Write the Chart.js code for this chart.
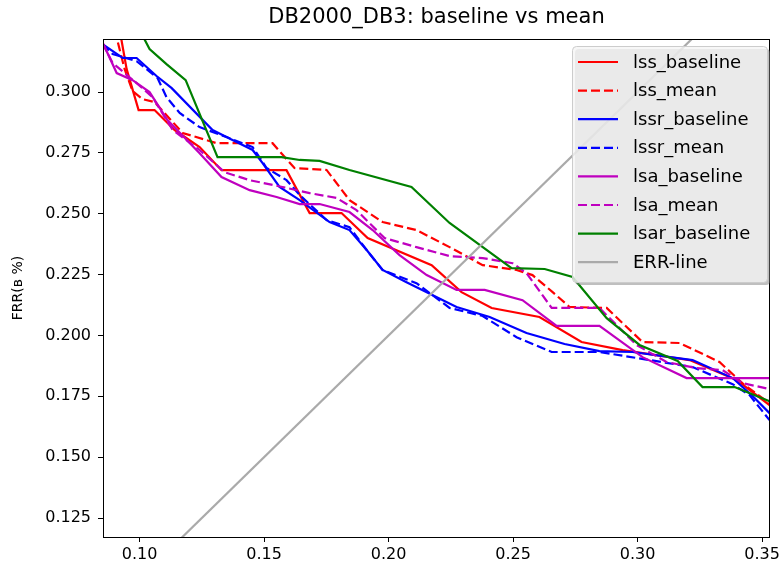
<!DOCTYPE html>
<html>
<head>
<meta charset="utf-8">
<script src="https://cdn.jsdelivr.net/npm/chart.js@4.4.0/dist/chart.umd.min.js"></script>
<style>
    body { margin: 0; background: #fff; }
    #wrap { position: relative; width: 784px; height: 564px; }
    #titulo {
        position: absolute; top: 4px; left: 103px; width: 667px;
        text-align: center; font: 21px "DejaVu Sans", sans-serif; color: #000;
    }
</style>
</head>
<body>
<div id="wrap">
    <div id="titulo">DB2000_DB3: baseline vs mean</div>
    <canvas id="grafico" width="784" height="564"></canvas>
</div>
<script>
/* ═══════════════════════════════════════════
   DB2000_DB3 — FRR curves, baseline vs mean
═══════════════════════════════════════════ */

// ── Data ([x, y] pairs) ────────────────────────
const lssBaseline = [
    [0.0920, 0.3255], [0.0948, 0.3094], [0.0996, 0.2926], [0.1060, 0.2926], [0.1141, 0.2844],
    [0.1241, 0.2774], [0.1329, 0.2679], [0.1590, 0.2679], [0.1683, 0.2503], [0.1811, 0.2503],
    [0.1916, 0.2400], [0.2173, 0.2289], [0.2293, 0.2178], [0.2414, 0.2113], [0.2606, 0.2076],
    [0.2775, 0.1973], [0.2940, 0.1940], [0.3209, 0.1899], [0.3398, 0.1817], [0.3530, 0.1714]
];
const lssMean = [
    [0.0900, 0.3255], [0.0940, 0.3094], [0.0972, 0.3004], [0.1012, 0.2971], [0.1060, 0.2959],
    [0.1173, 0.2832], [0.1309, 0.2790], [0.1534, 0.2790], [0.1622, 0.2688], [0.1751, 0.2680],
    [0.1843, 0.2556], [0.1976, 0.2466], [0.2112, 0.2433], [0.2245, 0.2363], [0.2378, 0.2289],
    [0.2514, 0.2269], [0.2578, 0.2248], [0.2659, 0.2178], [0.2727, 0.2117], [0.2876, 0.2113],
    [0.3020, 0.1973], [0.3169, 0.1969], [0.3329, 0.1891], [0.3430, 0.1796], [0.3530, 0.1722]
];
const lssrBaseline = [
    [0.0851, 0.3197], [0.0932, 0.3140], [0.0988, 0.3140], [0.1068, 0.3066], [0.1129, 0.3016],
    [0.1293, 0.2844], [0.1373, 0.2803], [0.1454, 0.2762], [0.1494, 0.2708], [0.1562, 0.2610],
    [0.1643, 0.2556], [0.1763, 0.2466], [0.1843, 0.2433], [0.1912, 0.2351], [0.1976, 0.2269],
    [0.2072, 0.2219], [0.2273, 0.2117], [0.2406, 0.2076], [0.2554, 0.2010], [0.2707, 0.1965],
    [0.2847, 0.1936], [0.2980, 0.1932], [0.3221, 0.1899], [0.3382, 0.1825], [0.3462, 0.1751],
    [0.3530, 0.1681]
];
const lssrMean = [
    [0.0851, 0.3197], [0.0892, 0.3156], [0.0988, 0.3127], [0.1072, 0.3058], [0.1108, 0.2979],
    [0.1161, 0.2914], [0.1241, 0.2856], [0.1349, 0.2815], [0.1454, 0.2774], [0.1510, 0.2688],
    [0.1590, 0.2638], [0.1643, 0.2577], [0.1751, 0.2474], [0.1843, 0.2445], [0.1912, 0.2351],
    [0.1976, 0.2269], [0.2112, 0.2215], [0.2245, 0.2113], [0.2378, 0.2080], [0.2514, 0.1993],
    [0.2655, 0.1932], [0.2847, 0.1932], [0.3048, 0.1899], [0.3221, 0.1870], [0.3382, 0.1800],
    [0.3450, 0.1755], [0.3530, 0.1652]
];
const lsaBaseline = [
    [0.0851, 0.3205], [0.0908, 0.3078], [0.0972, 0.3049], [0.1040, 0.3000], [0.1112, 0.2885],
    [0.1241, 0.2749], [0.1329, 0.2651], [0.1442, 0.2597], [0.1550, 0.2569], [0.1643, 0.2540],
    [0.1723, 0.2540], [0.1843, 0.2507], [0.1936, 0.2433], [0.2044, 0.2330], [0.2153, 0.2248],
    [0.2273, 0.2187], [0.2386, 0.2187], [0.2538, 0.2145], [0.2675, 0.2039], [0.2847, 0.2039],
    [0.3020, 0.1911], [0.3197, 0.1825], [0.3530, 0.1825]
];
const lsaMean = [
    [0.0851, 0.3201], [0.0892, 0.3119], [0.0988, 0.3037], [0.1052, 0.2979], [0.1133, 0.2844],
    [0.1241, 0.2762], [0.1341, 0.2671], [0.1442, 0.2638], [0.1574, 0.2610], [0.1683, 0.2585],
    [0.1791, 0.2565], [0.1871, 0.2515], [0.1984, 0.2400], [0.2112, 0.2363], [0.2245, 0.2326],
    [0.2378, 0.2318], [0.2498, 0.2297], [0.2554, 0.2256], [0.2655, 0.2113], [0.2847, 0.2113],
    [0.2996, 0.1961], [0.3116, 0.1891], [0.3237, 0.1866], [0.3341, 0.1858], [0.3422, 0.1804],
    [0.3530, 0.1780]
];
const lsarBaseline = [
    [0.1004, 0.3247], [0.1040, 0.3177], [0.1108, 0.3115], [0.1185, 0.3049], [0.1313, 0.2733],
    [0.1570, 0.2733], [0.1643, 0.2721], [0.1723, 0.2717], [0.1843, 0.2680], [0.2092, 0.2610],
    [0.2245, 0.2462], [0.2494, 0.2277], [0.2627, 0.2273], [0.2739, 0.2240], [0.2876, 0.2071],
    [0.3008, 0.1961], [0.3161, 0.1895], [0.3261, 0.1788], [0.3390, 0.1788], [0.3530, 0.1730]
];
const errLine = [[0.10, 0.10], [0.40, 0.40]];

// ── Axes ───────────────────────────────────────
const xRange = [0.0853, 0.3532];
const yRange = [0.1172, 0.3218];
const xTicks = [0.10, 0.15, 0.20, 0.25, 0.30, 0.35];
const yTicks = [0.125, 0.150, 0.175, 0.200, 0.225, 0.250, 0.275, 0.300];

const FONT = '"DejaVu Sans", sans-serif';

const series = [
    { label: 'lss_baseline',  data: lssBaseline,  color: '#ff0000', dash: [] },
    { label: 'lss_mean',      data: lssMean,      color: '#ff0000', dash: [9, 4] },
    { label: 'lssr_baseline', data: lssrBaseline, color: '#0000ff', dash: [] },
    { label: 'lssr_mean',     data: lssrMean,     color: '#0000ff', dash: [9, 4] },
    { label: 'lsa_baseline',  data: lsaBaseline,  color: '#bf00bf', dash: [] },
    { label: 'lsa_mean',      data: lsaMean,      color: '#bf00bf', dash: [9, 4] },
    { label: 'lsar_baseline', data: lsarBaseline, color: '#008000', dash: [] },
    { label: 'ERR-line',      data: errLine,      color: '#aaaaaa', dash: [] }
];

// ── Frame + legend (matplotlib look) ───────────
const marcoPlugin = {
    id: 'marco',
    afterDatasetsDraw(chart) {
        const { ctx, chartArea: a } = chart;
        ctx.save();
        ctx.strokeStyle = '#000';
        ctx.lineWidth = 1;
        ctx.strokeRect(a.left + 0.5, a.top + 0.5, a.right - a.left - 1, a.bottom - a.top);
        ctx.restore();
    }
};

const leyendaPlugin = {
    id: 'leyenda',
    afterDraw(chart) {
        const { ctx } = chart;
        const bx = 572, by = 46, bw = 195, bh = 236;
        ctx.save();
        // sombra
        ctx.fillStyle = 'rgba(128,128,128,0.5)';
        roundRect(ctx, bx + 3, by + 3, bw, bh, 4);
        ctx.fill();
        // caja
        ctx.fillStyle = 'rgba(245,245,245,0.8)';
        ctx.strokeStyle = '#cccccc';
        ctx.lineWidth = 1;
        roundRect(ctx, bx + 0.5, by + 0.5, bw, bh, 4);
        ctx.fill();
        ctx.stroke();

        ctx.font = '18px ' + FONT;
        ctx.textBaseline = 'middle';
        series.forEach((s, i) => {
            const y = 62 + i * 28.6;
            ctx.strokeStyle = s.color;
            ctx.lineWidth = 2.2;
            ctx.setLineDash(s.dash);
            ctx.beginPath();
            ctx.moveTo(578, y);
            ctx.lineTo(618, y);
            ctx.stroke();
            ctx.setLineDash([]);
            ctx.fillStyle = '#000';
            ctx.fillText(s.label, 633, y + 1);
        });
        ctx.restore();
    }
};

function roundRect(ctx, x, y, w, h, r) {
    ctx.beginPath();
    ctx.moveTo(x + r, y);
    ctx.lineTo(x + w - r, y);
    ctx.quadraticCurveTo(x + w, y, x + w, y + r);
    ctx.lineTo(x + w, y + h - r);
    ctx.quadraticCurveTo(x + w, y + h, x + w - r, y + h);
    ctx.lineTo(x + r, y + h);
    ctx.quadraticCurveTo(x, y + h, x, y + h - r);
    ctx.lineTo(x, y + r);
    ctx.quadraticCurveTo(x, y, x + r, y);
    ctx.closePath();
}

// ── Chart ──────────────────────────────────────
const ctx = document.getElementById('grafico').getContext('2d');

new Chart(ctx, {
    type: 'line',
    data: {
        datasets: series.map((s, i) => ({
            label: s.label,
            data: s.data.map(p => ({ x: p[0], y: p[1] })),
            borderColor: s.color,
            borderDash: s.dash,
            borderWidth: 2.2,
            pointRadius: 0,
            tension: 0,
            fill: false,
            order: series.length - i
        }))
    },
    options: {
        responsive: false,
        animation: false,
        devicePixelRatio: 1,
        layout: { padding: { top: 39, right: 14, left: 0, bottom: 0 } },
        plugins: {
            legend: { display: false },
            title: { display: false },
            tooltip: { enabled: false }
        },
        scales: {
            x: {
                type: 'linear',
                min: xRange[0],
                max: xRange[1],
                afterBuildTicks: s => { s.ticks = xTicks.map(v => ({ value: v })); },
                afterFit: s => { s.height = 27; },
                grid: { drawOnChartArea: false, drawTicks: true, tickLength: 5, color: '#000' },
                border: { display: false },
                ticks: {
                    autoSkip: false, maxRotation: 0, padding: 3,
                    color: '#000', font: { family: FONT, size: 16 },
                    callback: v => Number(v).toFixed(2)
                }
            },
            y: {
                type: 'linear',
                min: yRange[0],
                max: yRange[1],
                afterBuildTicks: s => { s.ticks = yTicks.map(v => ({ value: v })); },
                afterFit: s => { s.width = 103; },
                grid: { drawOnChartArea: false, drawTicks: true, tickLength: 5, color: '#000' },
                border: { display: false },
                title: {
                    display: true, text: 'FRR(в %)', color: '#000',
                    font: { family: FONT, size: 14 }, padding: { top: 10, bottom: 0 }
                },
                ticks: {
                    autoSkip: false, padding: 7,
                    color: '#000', font: { family: FONT, size: 16 },
                    callback: v => Number(v).toFixed(3)
                }
            }
        }
    },
    plugins: [marcoPlugin, leyendaPlugin]
});
</script>
</body>
</html>
